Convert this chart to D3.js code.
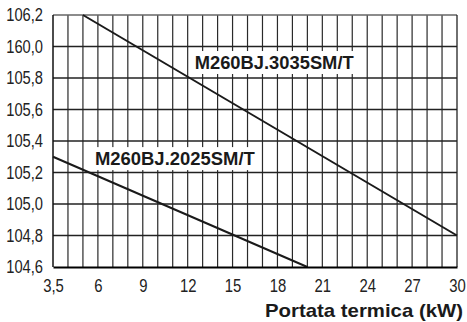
<!DOCTYPE html>
<html>
<head>
<meta charset="utf-8">
<script src="https://cdn.jsdelivr.net/npm/d3@7"></script>
<style>
  html, body { margin: 0; padding: 0; background: #fff; }
  svg { display: block; font-family: "Liberation Sans", Arial, sans-serif; }
</style>
</head>
<body>
<svg id="chart" width="467" height="322"></svg>
<script>
// ---- data ----
const xTickValues = [3, 6, 9, 12, 15, 18, 21, 24, 27, 30];
const xTickLabels = ["3,5", "6", "9", "12", "15", "18", "21", "24", "27", "30"];
const yTickValues = [104.6, 104.8, 105.0, 105.2, 105.4, 105.6, 105.8, 106.0, 106.2];
const yTickLabels = ["104,6", "104,8", "105,0", "105,2", "105,4", "105,6", "105,8", "160,0", "106,2"];
const seriesNames = ["M260BJ.3035SM/T", "M260BJ.2025SM/T"];
const series3035 = [[5, 106.2], [30, 104.8]];
const series2025 = [[3, 105.3], [20, 104.6]];
const labelAnchors = [[12.47, 105.857], [5.8, 105.247]];
const xTitle = "Portata termica (kW)";

// ---- layout ----
const W = 467, H = 322;
const margin = { top: 15, right: 10, bottom: 55, left: 53 };
const svg = d3.select("#chart");
const x = d3.scaleLinear().domain([3, 30]).range([margin.left, W - margin.right]);
const y = d3.scaleLinear().domain([104.6, 106.2]).range([H - margin.bottom, margin.top]);

const grid = svg.append("g");
grid.selectAll("line.v").data(d3.range(4, 30, 1)).join("line")
  .attr("x1", d => x(d)).attr("x2", d => x(d))
  .attr("y1", y(106.2)).attr("y2", y(104.6))
  .attr("stroke", "#2a2a2a").attr("stroke-width", 1.2);
grid.selectAll("line.h").data(yTickValues.slice(1, -1)).join("line")
  .attr("x1", x(3)).attr("x2", x(30))
  .attr("y1", d => y(d)).attr("y2", d => y(d))
  .attr("stroke", "#222").attr("stroke-width", 1.3);
svg.append("line").attr("x1", x(3)).attr("x2", x(30)).attr("y1", y(106.2)).attr("y2", y(106.2))
  .attr("stroke", "#666").attr("stroke-width", 1.3);
svg.append("line").attr("x1", x(30)).attr("x2", x(30)).attr("y1", y(106.2)).attr("y2", y(104.6))
  .attr("stroke", "#222").attr("stroke-width", 1.3);
svg.append("line").attr("x1", x(3)).attr("x2", x(3)).attr("y1", y(106.2)).attr("y2", y(104.6))
  .attr("stroke", "#111").attr("stroke-width", 1.5);

const labelG = svg.append("g");
const lineG = svg.append("g");
const line = d3.line().x(d => x(d[0])).y(d => y(d[1]));
[series3035, series2025].forEach(s => {
  lineG.append("path").attr("d", line(s)).attr("fill", "none")
    .attr("stroke", "#1a1a1a").attr("stroke-width", 2);
});
const labelLens = [159, 160];
seriesNames.forEach((name, i) => {
  const lx = x(labelAnchors[i][0]), ly = y(labelAnchors[i][1]);
  labelG.append("rect").attr("x", lx - 3).attr("y", ly - 18)
    .attr("width", labelLens[i] + 6).attr("height", 23).attr("fill", "#fff");
  labelG.append("text").attr("x", lx).attr("y", ly)
    .attr("font-size", 19).attr("font-weight", "bold").attr("fill", "#1a1a1a")
    .attr("textLength", labelLens[i]).attr("lengthAdjust", "spacingAndGlyphs")
    .text(name);
});

const xAxis = svg.append("g").attr("transform", `translate(0,${y(104.6)})`)
  .call(d3.axisBottom(x).tickValues(xTickValues).tickSize(0).tickPadding(13)
    .tickFormat((d, i) => xTickLabels[i]));
xAxis.select(".domain").attr("stroke", "#000").attr("stroke-width", 2.2);
xAxis.selectAll("text").attr("font-size", 17.5).attr("fill", "#222")
  .attr("font-family", "Liberation Sans, Arial, sans-serif")
  .each(function () {
    const w = this.getComputedTextLength();
    d3.select(this).attr("textLength", w * 0.85).attr("lengthAdjust", "spacingAndGlyphs");
  });

const yAxis = svg.append("g").attr("transform", `translate(${x(3)},0)`)
  .call(d3.axisLeft(y).tickValues(yTickValues).tickSize(0).tickPadding(10)
    .tickFormat((d, i) => yTickLabels[i]));
yAxis.select(".domain").remove();
yAxis.selectAll("text").attr("font-size", 17.5).attr("fill", "#222")
  .attr("font-family", "Liberation Sans, Arial, sans-serif")
  .each(function () {
    const w = this.getComputedTextLength();
    d3.select(this).attr("textLength", w * 0.84).attr("lengthAdjust", "spacingAndGlyphs");
  });

svg.append("text").attr("x", 463).attr("y", 316.5).attr("text-anchor", "end")
  .attr("font-size", 18.5).attr("font-weight", "bold").attr("fill", "#1a1a1a")
  .attr("textLength", 198).attr("lengthAdjust", "spacingAndGlyphs")
  .text(xTitle);
</script>
</body>
</html>
